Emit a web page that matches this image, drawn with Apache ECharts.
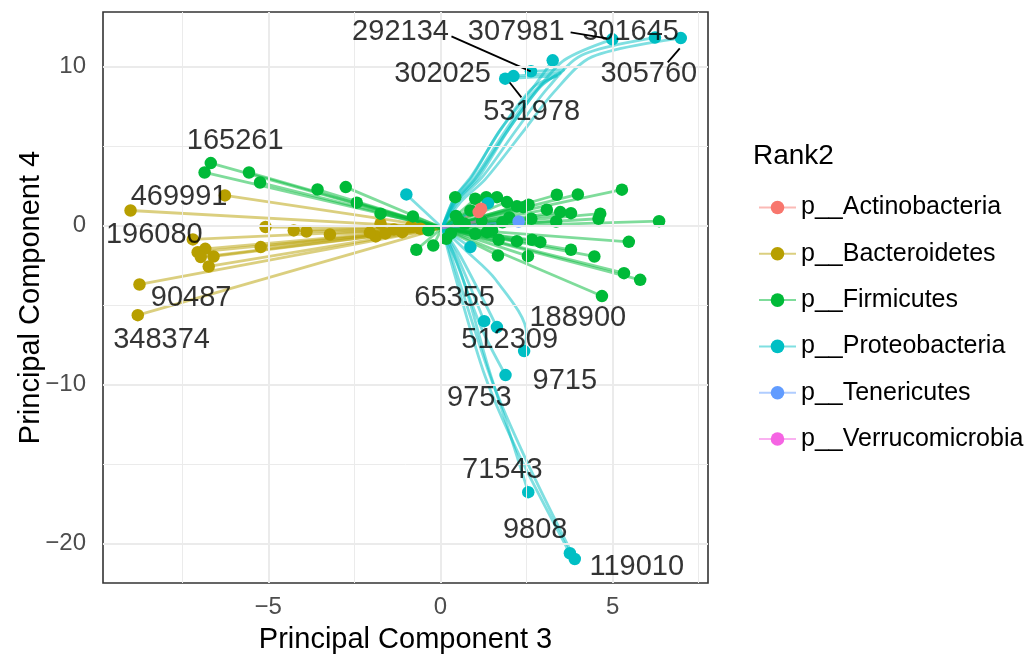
<!DOCTYPE html>
<html>
<head>
<meta charset="utf-8">
<script src="https://cdn.jsdelivr.net/npm/echarts@6/dist/echarts.min.js"></script>
<style>
  html, body { margin: 0; padding: 0; background: #fff; }
  #chart { width: 1030px; height: 658px; }
</style>
</head>
<body>
<div id="chart"></div>
<script>
// groups and colours (ggplot hue palette)
const rank2 = ["p__Actinobacteria", "p__Bacteroidetes", "p__Firmicutes", "p__Proteobacteria", "p__Tenericutes", "p__Verrucomicrobia"];
const rankColors = ["#F8766D", "#B79F00", "#00BA38", "#00BFC4", "#619CFF", "#F564E3"];

// every trajectory starts here; the last point of a path is the dot
const origin = [0.05, -0.15];

const actinoPaths = [
    [[1.11, 0.84]],
    [[1.18, 1.05]]
];
const bacteroPaths = [
    [[-6.26, 1.89]], [[-9.0, 0.94]], [[-5.08, -0.1]], [[-4.26, -0.31]], [[-7.19, -0.88]],
    [[-5.22, -1.36]], [[-7.05, -1.68]], [[-6.83, -1.47]], [[-6.59, -1.95]], [[-6.96, -1.99]],
    [[-6.73, -2.58]], [[-8.74, -3.71]], [[-8.79, -5.64]], [[-3.89, -0.38]], [[-3.21, -0.57]],
    [[-1.74, 0.11]], [[-1.88, -0.69]], [[-1.11, -0.42]], [[-0.58, -0.21]], [[-1.35, -0.25]],
    [[-2.05, -0.45]], [[-0.85, -0.05]], [[-1.6, -0.5]]
];
const firmiPaths = [
    [[-6.67, 3.92]], [[-6.85, 3.33]], [[-5.56, 3.33]], [[-5.24, 2.70]], [[-3.57, 2.26]],
    [[-2.75, 2.41]], [[-2.43, 1.43]], [[-1.74, 0.74]], [[-0.80, 0.57]], [[-0.70, -1.53]],
    [[-0.21, -1.26]], [[0.17, -0.84]], [[0.43, 1.78]], [[1.01, 1.68]], [[1.33, 1.78]],
    [[1.64, 1.78]], [[1.93, 1.47]], [[2.22, 1.20]], [[2.56, 1.30]], [[3.38, 1.93]],
    [[3.99, 1.95]], [[5.27, 2.25]], [[3.09, 0.99]], [[3.48, 0.84]], [[3.79, 0.77]],
    [[4.64, 0.74]], [[4.59, 0.42]], [[2.64, 0.42]], [[3.36, 0.25]], [[6.35, 0.27]],
    [[0.87, 0.94]], [[0.53, 0.31]], [[1.50, -0.31]], [[1.69, -0.90]], [[2.22, -0.99]],
    [[2.66, -0.90]], [[2.90, -1.05]], [[3.79, -1.53]], [[4.47, -1.95]], [[5.47, -1.03]],
    [[1.67, -1.89]], [[2.54, -1.93]], [[5.33, -3.0]], [[5.80, -3.42]], [[4.69, -4.44]],
    [[1.01, -0.52]], [[1.35, -0.42]], [[0.7, 0.1]], [[0.3, -0.5]], [[1.2, 0.3]],
    [[2.0, 0.5]], [[2.4, 1.15]], [[-0.35, -0.3]], [[0.45, 0.6]], [[1.8, 0.2]]
];
const proteoPaths = [
    [[0.45, 1.6], [1.0, 2.9], [1.9, 5.8], [2.8, 8.5], [3.6, 10.4], [4.99, 11.70]],
    [[0.55, 1.6], [1.2, 3.0], [2.2, 6.0], [3.1, 8.6], [4.1, 10.7], [6.23, 11.81]],
    [[0.6, 1.5], [1.3, 2.9], [2.4, 5.9], [3.3, 8.4], [4.4, 10.6], [6.98, 11.78]],
    [[0.4, 1.7], [0.9, 3.0], [1.7, 5.9], [2.6, 8.4], [3.26, 10.38]],
    [[0.5, 1.6], [1.1, 3.0], [2.0, 6.1], [2.9, 8.7], [3.6, 9.8], [2.63, 9.69]],
    [[0.45, 1.6], [1.0, 3.0], [1.9, 6.0], [2.8, 8.6], [3.5, 9.6], [2.12, 9.39]],
    [[0.4, 1.7], [0.9, 3.1], [1.8, 6.2], [2.7, 8.7], [3.4, 9.4], [1.88, 9.23]],
    [[0.5, -2.0], [1.27, -6.02]],
    [[0.6, -2.0], [1.64, -6.39]],
    [[0.7, -1.5], [1.6, -3.4], [2.5, -6.8], [2.43, -7.90]],
    [[0.5, -2.5], [1.2, -6.5], [1.89, -9.41]],
    [[0.6, -3.0], [1.4, -9.0], [2.0, -13.0], [2.55, -16.77]],
    [[0.4, -3.0], [1.3, -9.5], [2.3, -14.5], [3.76, -20.61]],
    [[0.5, -3.2], [1.5, -9.8], [2.5, -14.8], [3.90, -20.97]],
    [[-0.99, 1.95]],
    [[0.87, -1.36]],
    [[1.38, 1.40]]
];
const teneriPaths = [
    [[2.27, 0.25]]
];
const verruPaths = [
    [[1.2, 0.3]]
];

// labelled taxa and where their text sits
const labelIds = ["292134", "307981", "301645", "302025", "305760", "531978", "165261", "469991", "196080", "90487",
    "348374", "65355", "188900", "512309", "9715", "9753", "71543", "9808", "119010"];
const labelX = [-1.16, 2.20, 5.52, 0.06, 6.05, 2.65, -5.96, -7.59, -8.31, -7.24,
    -8.10, 0.41, 3.99, 2.01, 3.61, 1.13, 1.80, 2.75, 5.70];
const labelY = [12.14, 12.14, 12.14, 9.50, 9.50, 7.11, 5.28, 1.82, -0.57, -4.59,
    -7.23, -4.59, -5.85, -7.23, -9.81, -10.82, -15.35, -19.12, -21.45];

// leader segments from text to dot
const leaders = [
    [[0.32, 11.89], [2.62, 9.69]],
    [[3.78, 12.14], [4.83, 11.76]],
    [[6.60, 10.25], [6.95, 11.13]],
    [[2.01, 8.99], [2.35, 8.05]]
];

const xMajor = [-5, 0, 5];
const xMinor = [-7.5, -2.5, 2.5, 7.5];
const yMajor = [-20, -10, 0, 10];
const yMinor = [-15, -5, 5];

const groupPaths = [actinoPaths, bacteroPaths, firmiPaths, proteoPaths, teneriPaths, verruPaths];

const minus = v => (v < 0 ? "\u2212" + Math.abs(v) : String(v));

const chart = echarts.init(document.getElementById("chart"), null, { renderer: "canvas" });

const series = [];

// grid lines drawn through the axes
series.push({
    type: "line",
    data: [],
    silent: true,
    z: 0,
    markLine: {
        silent: true,
        symbol: "none",
        label: { show: false },
        animation: false,
        data: [
            ...xMinor.map(v => ({ xAxis: v, lineStyle: { color: "#ebebeb", width: 1, type: "solid" } })),
            ...yMinor.map(v => ({ yAxis: v, lineStyle: { color: "#ebebeb", width: 1, type: "solid" } })),
            ...xMajor.map(v => ({ xAxis: v, lineStyle: { color: "#ebebeb", width: 2, type: "solid" } })),
            ...yMajor.map(v => ({ yAxis: v, lineStyle: { color: "#ebebeb", width: 2, type: "solid" } }))
        ]
    }
});

// trajectories
groupPaths.forEach((paths, g) => {
    paths.forEach(p => {
        series.push({
            type: "line",
            name: "path",
            data: [origin, ...p],
            smooth: p.length > 1 ? 0.3 : false,
            showSymbol: false,
            symbol: "none",
            silent: true,
            z: 2,
            lineStyle: { color: rankColors[g], width: 2.8, opacity: 0.5 },
            animation: false
        });
    });
});

// dots
const dotOrder = [5, 1, 2, 3, 0, 4];
dotOrder.forEach(g => {
    series.push({
        type: "scatter",
        name: "dot",
        data: groupPaths[g].map(p => p[p.length - 1]),
        symbolSize: 12.5,
        itemStyle: { color: rankColors[g], opacity: 1 },
        z: 3,
        silent: true,
        animation: false
    });
});

// leader segments
leaders.forEach(seg => {
    series.push({
        type: "line",
        name: "leader",
        data: seg,
        showSymbol: false,
        symbol: "none",
        silent: true,
        z: 4,
        lineStyle: { color: "#000", width: 1.8 },
        animation: false
    });
});

// id labels
series.push({
    type: "scatter",
    name: "labels",
    data: labelIds.map((id, i) => ({ name: id, value: [labelX[i], labelY[i]] })),
    symbolSize: 0,
    silent: true,
    z: 5,
    label: {
        show: true,
        position: "inside",
        formatter: "{b}",
        color: "#000",
        textBorderWidth: 0,
        fontSize: 29,
        fontFamily: "Liberation Sans, Arial, sans-serif"
    },
    animation: false
});

// legend entries
rank2.forEach((name, g) => {
    series.push({
        type: "line",
        name: name,
        data: [],
        symbol: "circle",
        symbolSize: 12,
        itemStyle: { color: rankColors[g] },
        lineStyle: { color: rankColors[g], width: 3, opacity: 0.5 }
    });
});

const option = {
    animation: false,
    backgroundColor: "#fff",
    textStyle: { fontFamily: "Liberation Sans, Arial, sans-serif" },
    title: {
        text: "Rank2",
        left: 748,
        top: 137,
        textStyle: { fontSize: 28, fontWeight: "normal", color: "#000" }
    },
    legend: {
        data: rank2,
        orient: "vertical",
        left: 753,
        top: 190,
        itemGap: 21.3,
        itemWidth: 37,
        itemHeight: 17,
        textStyle: { fontSize: 25, color: "#000" },
        selectedMode: false
    },
    grid: {
        left: 103,
        right: 322,
        top: 12,
        bottom: 75,
        show: true,
        borderColor: "#333333",
        borderWidth: 1.6,
        containLabel: false,
        outerBoundsMode: "none"
    },
    xAxis: {
        type: "value",
        min: -9.8,
        max: 7.77,
        name: "Principal Component 3",
        nameLocation: "middle",
        nameGap: 42,
        nameTextStyle: { fontSize: 29, color: "#000" },
        axisLine: { show: false },
        splitLine: { show: false },
        axisTick: { show: true, customValues: xMajor, length: 6, lineStyle: { color: "#333333", width: 1.5 } },
        axisLabel: { customValues: xMajor, formatter: minus, fontSize: 24, color: "#4d4d4d", margin: 12 }
    },
    yAxis: {
        type: "value",
        min: -22.48,
        max: 13.42,
        name: "Principal Component 4",
        nameLocation: "middle",
        nameGap: 58,
        nameMoveOverlap: false,
        nameTextStyle: { fontSize: 29, color: "#000" },
        axisLine: { show: false },
        splitLine: { show: false },
        axisTick: { show: true, customValues: yMajor, length: 6, lineStyle: { color: "#333333", width: 1.5 } },
        axisLabel: { customValues: yMajor, formatter: minus, fontSize: 24, color: "#4d4d4d", margin: 17 }
    },
    series: series
};

chart.setOption(option);
</script>
</body>
</html>
